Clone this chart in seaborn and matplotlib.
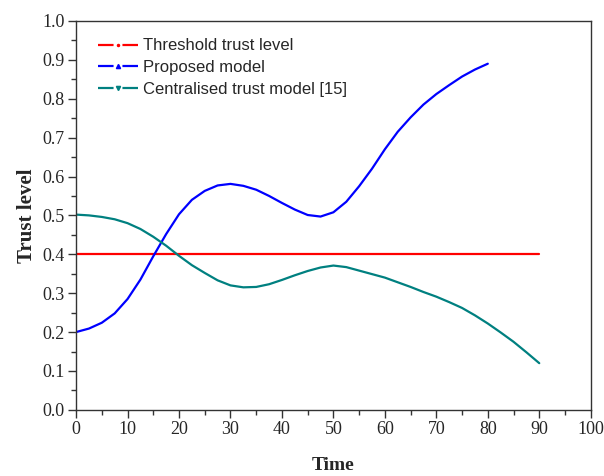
import numpy as np
import pandas as pd
import matplotlib
matplotlib.use("Agg")
import matplotlib.pyplot as plt
from matplotlib.lines import Line2D
import seaborn as sns

# Data
threshold_time = [0, 90]
threshold_vals = [0.4, 0.4]

proposed_time = [0, 2.5, 5, 7.5, 10, 12.5, 15, 17.5, 20, 22.5, 25, 27.5, 30, 32.5, 35, 37.5, 40,
                 42.5, 45, 47.5, 50, 52.5, 55, 57.5, 60, 62.5, 65, 67.5, 70, 72.5, 75, 77.5, 80]
proposed_vals = [0.200, 0.209, 0.224, 0.248, 0.285, 0.335, 0.395, 0.452, 0.503, 0.540, 0.563, 0.577, 0.581,
                 0.576, 0.566, 0.550, 0.532, 0.515, 0.501, 0.497, 0.508, 0.535, 0.575, 0.620, 0.670,
                 0.715, 0.752, 0.785, 0.812, 0.835, 0.857, 0.875, 0.890]

central_time = [0, 2.5, 5, 7.5, 10, 12.5, 15, 17.5, 20, 22.5, 25, 27.5, 30, 32.5, 35, 37.5, 40, 42.5,
                45, 47.5, 50, 52.5, 55, 57.5, 60, 62.5, 65, 67.5, 70, 72.5, 75, 77.5, 80, 82.5, 85, 87.5, 90]
central_vals = [0.502, 0.500, 0.496, 0.490, 0.480, 0.465, 0.445, 0.422, 0.396, 0.372, 0.352, 0.333, 0.320,
                0.315, 0.316, 0.323, 0.334, 0.346, 0.357, 0.366, 0.371, 0.367, 0.358, 0.349, 0.340,
                0.328, 0.316, 0.303, 0.291, 0.277, 0.262, 0.243, 0.222, 0.199, 0.175, 0.148, 0.120]

labels = ["Threshold trust level", "Proposed model", "Centralised trust model [15]"]
colors = ["#ff0000", "#0000ff", "#008080"]
markers = [".", "^", "v"]

sns.set_style("white")
plt.rcParams["font.family"] = ["Liberation Serif", "DejaVu Serif"]

fig = plt.figure(figsize=(6.04, 4.76), dpi=100)
ax = fig.add_axes([0.126, 0.139, 0.852, 0.817])

series = [(threshold_time, threshold_vals), (proposed_time, proposed_vals), (central_time, central_vals)]
for (t, v), lab, c in zip(series, labels, colors):
    df = pd.DataFrame({"Time": t, "Trust": v})
    sns.lineplot(data=df, x="Time", y="Trust", color=c, linewidth=1.6, ax=ax, legend=False)

ax.set_xlim(0, 100)
ax.set_ylim(0, 1.0)
ax.set_xticks(np.arange(0, 101, 10))
ax.set_yticks(np.arange(0, 1.01, 0.1))
ax.set_yticklabels([f"{y:.1f}" for y in np.arange(0, 1.01, 0.1)])
ax.set_xticks(np.arange(5, 100, 10), minor=True)
ax.set_yticks(np.arange(0.05, 1.0, 0.1), minor=True)
ax.tick_params(which="major", direction="out", length=6, width=1, color="#333333",
               labelsize=13, bottom=True, left=True, top=False, right=False, pad=2)
ax.tick_params(which="minor", direction="out", length=3.5, width=1, color="#333333",
               bottom=True, left=True, top=False, right=False)
for sp in ax.spines.values():
    sp.set_color("#333333")
    sp.set_linewidth(1.0)

ax.set_xlabel("Time", fontsize=14, fontweight="bold", labelpad=14)
ax.set_ylabel("Trust level", fontsize=15, fontweight="bold", labelpad=4)

handles = [Line2D([0], [0], color=c, linestyle=(0, (7, 4)), linewidth=1.6, marker=m, markersize=3)
           for c, m in zip(colors, markers)]
leg = ax.legend(handles, labels, loc="upper left", bbox_to_anchor=(0.02, 0.985), frameon=False,
                handlelength=2.4, handletextpad=0.3, labelspacing=0.4, borderaxespad=0.3,
                prop={"family": "Liberation Sans", "size": 12})

fig.savefig("out.png", dpi=100)
